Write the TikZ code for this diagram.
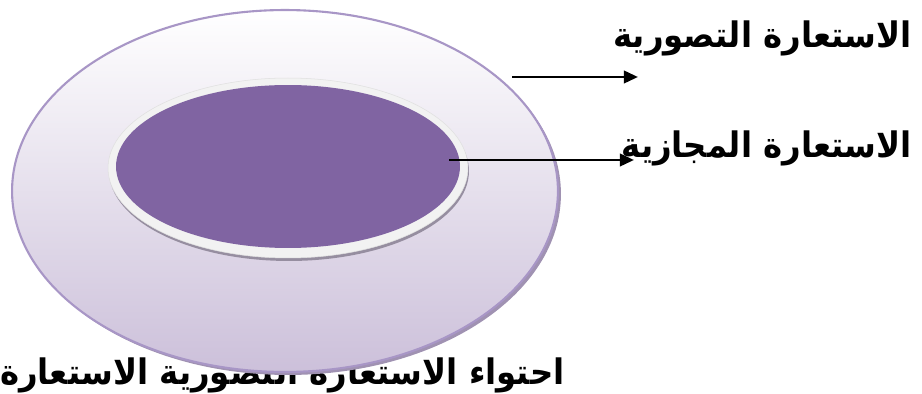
\documentclass[tikz,border=0pt]{standalone}
\usepackage{fontspec}
\newfontfamily\arabicfont[Script=Arabic]{DejaVu Sans}
\TeXXeTstate=1
\usepackage{tikz}
\usetikzlibrary{positioning,shapes.geometric,arrows.meta}
\definecolor{lilac}{RGB}{204,192,218}
\definecolor{rimline}{RGB}{168,150,198}
\definecolor{plum}{RGB}{128,100,162}
\definecolor{rimwhite}{RGB}{242,242,242}
\definecolor{shadeA}{RGB}{160,146,178}
\definecolor{shadeB}{RGB}{150,142,160}
% right-to-left line, a little narrowed
\newcommand{\arline}[1]{\scalebox{0.92}[1]{\beginR #1\endR}}

\begin{document}
\begin{tikzpicture}[x=0.02cm,y=-0.02cm]
            \tikzstyle{disc}=[ellipse, inner sep=0pt]
            \tikzstyle{term}=[inner sep=0pt, font=\arabicfont\bfseries\fontsize{20}{24}\selectfont]
            \tikzstyle{connect}=[line width=1.6pt, -{Triangle[length=8pt,width=7pt]}]
            \useasboundingbox (0,0) rectangle (922,394);

            \node[term, anchor=east] (whole) at (565,375){\arline{احتواء الاستعارة التصورية الاستعارة}};

            \node[disc, fill=shadeA, minimum width=10.92cm, minimum height=7.24cm] (outershade) at (288,194){};
            \node[disc, draw=rimline, line width=1.2pt, top color=white, bottom color=lilac, minimum width=10.92cm, minimum height=7.24cm] (outer) at (285,191){};
            \node[disc, fill=shadeB, minimum width=7.2cm, minimum height=3.6cm] (rimshade) at (289,171){};
            \node[disc, fill=rimwhite, draw=black!12, line width=0.3pt, minimum width=7.2cm, minimum height=3.6cm] (rim) at (288,168){};
            \node[disc, fill=plum, minimum width=6.88cm, minimum height=3.26cm] (inner) at (288,166.5){};

            \node[term, anchor=east] (tasawur) at (912,38){\arline{الاستعارة التصورية}};
            \node[term, anchor=east] (majaz) at (912,148){\arline{الاستعارة المجازية}};

            \coordinate (tail1) at (512,77);
            \coordinate (head1) at (638,77);
            \coordinate (tail2) at (449,160);
            \coordinate (head2) at (634,160);
            \path[-] (tail1) edge [connect] (head1);
            \path[-] (tail2) edge [connect] (head2);
\end{tikzpicture}
\end{document}
